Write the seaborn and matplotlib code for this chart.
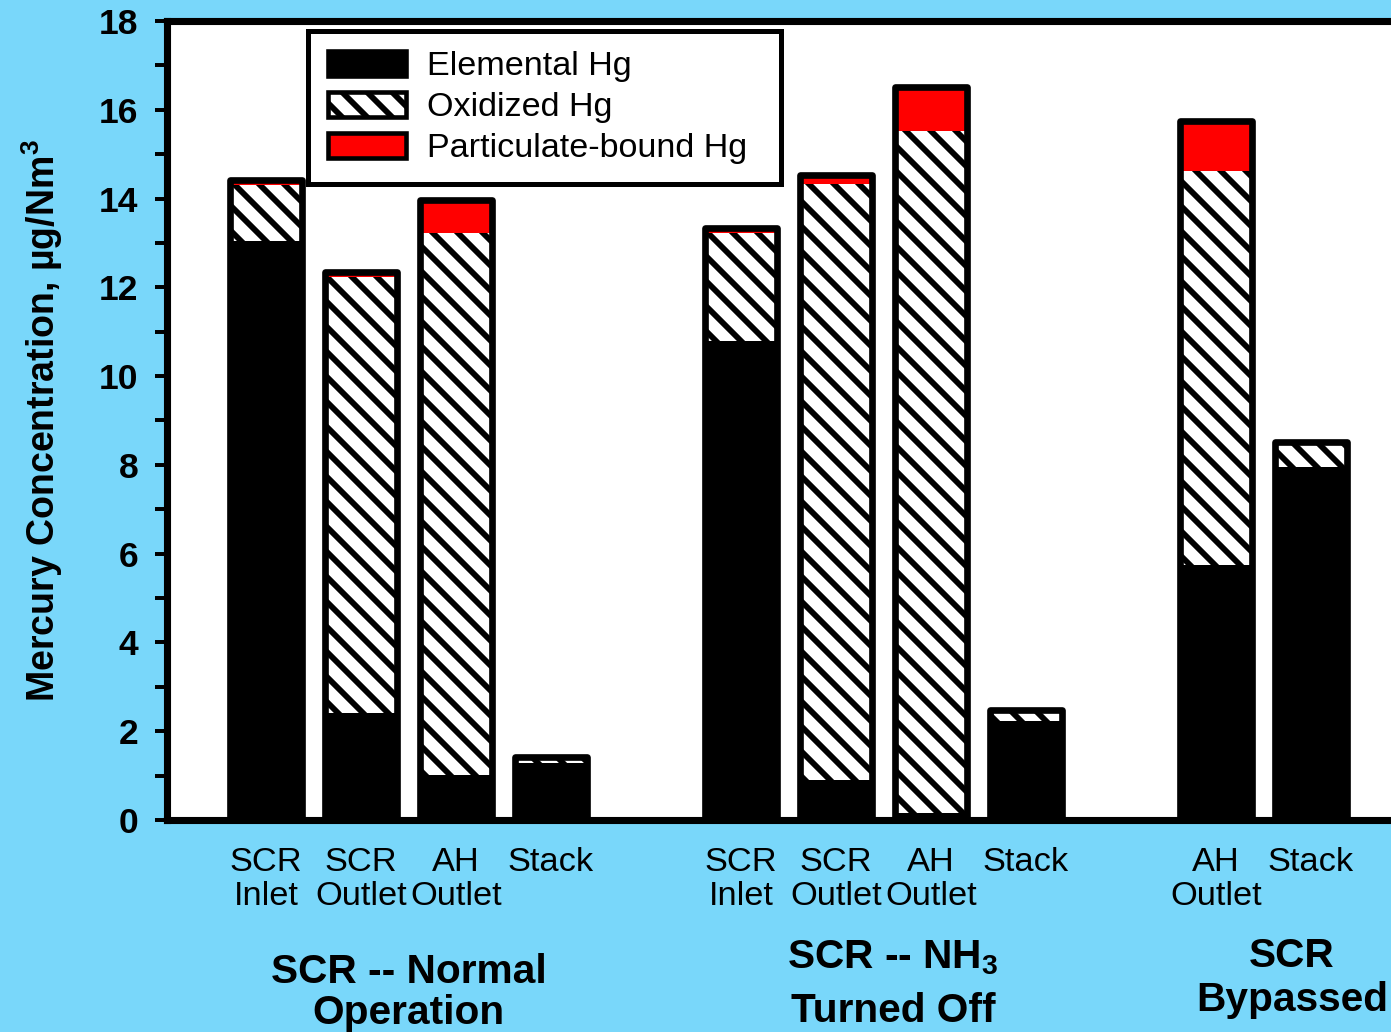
import matplotlib
matplotlib.use("Agg")
import matplotlib.pyplot as plt
from matplotlib.patches import Patch
from matplotlib.ticker import MultipleLocator
import numpy as np
import pandas as pd
import seaborn as sns

# sampling locations (two-line tick labels) and their slot on the x axis
locations = ["SCR\nInlet", "SCR\nOutlet", "AH\nOutlet", "Stack",
             "SCR\nInlet", "SCR\nOutlet", "AH\nOutlet", "Stack",
             "AH\nOutlet", "Stack"]
positions = [0, 1, 2, 3, 5, 6, 7, 8, 10, 11]

# mercury species, ug/Nm3
elemental = [13.04, 2.41, 1.01, 1.28, 10.79, 0.90, 0.15, 2.22, 5.74, 7.95]
oxidized = [1.26, 9.82, 12.21, 0.10, 2.43, 13.42, 15.37, 0.22, 8.88, 0.54]
particulate = [0.12, 0.12, 0.75, 0.03, 0.12, 0.22, 1.00, 0.03, 1.12, 0.03]

group_names = ["SCR -- Normal\nOperation",
               "SCR -- NH$_\\mathbf{3}$\nTurned Off",
               "SCR\nBypassed"]
group_centers = [1.5, 6.6, 10.8]
group_tops = [-0.166, -0.148, -0.146]
group_spacing = [1.1, 1.5, 1.2]

BLUE = "#79D7FA"
RED = "#FF0000"

df = pd.DataFrame({
    "pos": positions,
    "elemental": elemental,
    "oxidized": oxidized,
    "particulate": particulate,
})
df["ox_top"] = df["elemental"] + df["oxidized"]
df["total"] = df["ox_top"] + df["particulate"]

sns.set_theme(style="ticks")
plt.rcParams["font.family"] = ["Liberation Sans", "DejaVu Sans"]
plt.rcParams["mathtext.fontset"] = "custom"
plt.rcParams["mathtext.rm"] = "Liberation Sans"
plt.rcParams["mathtext.bf"] = "Liberation Sans:bold"
plt.rcParams["hatch.linewidth"] = 2.8
plt.rcParams["hatch.color"] = "black"
for key in ["text.color", "axes.labelcolor", "xtick.color", "ytick.color",
            "axes.edgecolor"]:
    plt.rcParams[key] = "black"

fig = plt.figure(figsize=(1391 / 150, 1032 / 150), dpi=150, facecolor=BLUE)
ax = fig.add_axes([167 / 1391, 1 - 820 / 1032, 1 - 167 / 1391, 799 / 1032])
ax.set_facecolor("white")

bw = 0.75
sns.barplot(data=df, x="pos", y="total", native_scale=True, color=RED,
            saturation=1, width=bw, linewidth=0, errorbar=None, ax=ax)
sns.barplot(data=df, x="pos", y="ox_top", native_scale=True, color="white",
            saturation=1, width=bw, linewidth=0, edgecolor="black",
            hatch="\\\\", errorbar=None, ax=ax)
sns.barplot(data=df, x="pos", y="elemental", native_scale=True, color="black",
            saturation=1, width=bw, linewidth=0, errorbar=None, ax=ax)
# heavy outline around each stacked column
sns.barplot(data=df, x="pos", y="total", native_scale=True, color="black",
            fill=False, width=bw, linewidth=3.2, errorbar=None, ax=ax)
for p in ax.patches[-len(df):]:
    p.set_joinstyle("round")

ax.set_xlim(-1.042, (1391 - 266) / 95)
ax.set_ylim(0, 18)
ax.yaxis.set_major_locator(MultipleLocator(2))
ax.yaxis.set_minor_locator(MultipleLocator(1))
ax.set_xticks(positions)
ax.set_xticklabels(locations, fontsize=16.5, linespacing=1.12)
ax.tick_params(axis="x", length=0, pad=13)
ax.tick_params(axis="y", which="both", length=5.8, width=1.9, pad=8)
for lab in ax.get_yticklabels():
    lab.set_fontsize(17)
    lab.set_fontweight("bold")

for s in ["left", "bottom", "top"]:
    ax.spines[s].set_linewidth(3.4)
ax.spines["right"].set_visible(False)

ax.set_xlabel("")
ax.set_ylabel("Mercury Concentration, \u00b5g/Nm$^\\mathbf{3}$",
              fontsize=18, fontweight="bold", labelpad=16)

for name, cx, ty, ls in zip(group_names, group_centers, group_tops, group_spacing):
    ax.text(cx, ty, name, transform=ax.get_xaxis_transform(),
            ha="center", va="top", fontsize=19.5, fontweight="bold",
            linespacing=ls)

handles = [
    Patch(facecolor="black", edgecolor="black", linewidth=2.2),
    Patch(facecolor="white", edgecolor="black", linewidth=2.2, hatch="\\\\"),
    Patch(facecolor=RED, edgecolor="black", linewidth=2.2),
]
leg = ax.legend(handles, ["Elemental Hg", "Oxidized Hg", "Particulate-bound Hg"],
                loc="upper left", bbox_to_anchor=(0.115, 0.65, 0.3865, 0.3375),
                mode="expand",
                fontsize=16.4, frameon=True, fancybox=False, framealpha=1,
                handlelength=2.3, handleheight=0.75, handletextpad=0.6,
                labelspacing=0.28, borderpad=0.58, borderaxespad=0)
leg.get_frame().set_edgecolor("black")
leg.get_frame().set_linewidth(2.4)

fig.savefig("out.png", dpi=150, facecolor=BLUE)
